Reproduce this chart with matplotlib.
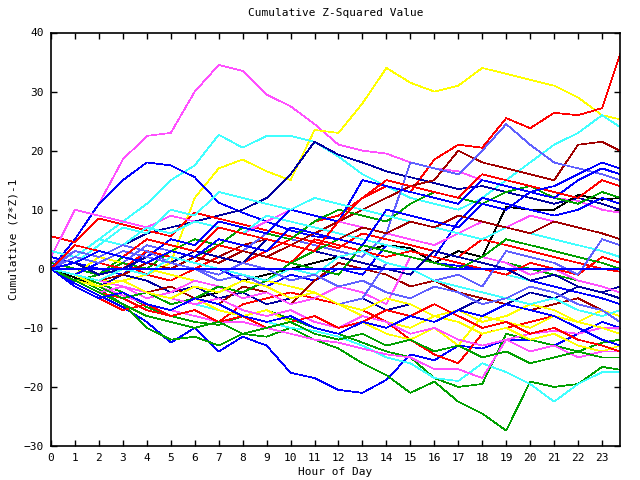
import matplotlib
matplotlib.use("Agg")
import matplotlib.pyplot as plt

# hours sampled (last sample is 23:45)
hours = list(range(24)) + [23.75]

# cumulative (z*z)-1 per series, read roughly at each hour
mag_hi   = [0, 5, 11, 18.5, 22.5, 23, 30, 34.5, 33.5, 29.5, 27.5, 24.5, 21, 20, 19.5, 18, 17, 16.5, 15, 14, 13, 12, 11.5, 10, 9.5]
yel_hi   = [0, -1, -2, -2, -1, 1, 12, 17, 18.5, 16.5, 15, 23.5, 23, 28, 34, 31.5, 30, 31, 34, 33, 32, 31, 29, 26, 25.3]
red_end  = [0, 3, 2, 1, -1, -2, 0, 2, 1, 3, 5, 8, 9, 12, 14, 13, 18.5, 21, 20.5, 25.5, 23.8, 26.4, 26, 27.2, 36.3]
cyan_hi  = [0, 2, 5, 8, 11, 15, 17.5, 22.7, 20.5, 22.5, 22.5, 21.5, 19, 16, 14, 12, 11, 10, 12, 15, 18, 21, 23, 26, 24]
blue_hi  = [0, 5, 11, 15, 18, 17.5, 15.5, 11.2, 9.5, 8, 6.5, 5.5, 5, 4, 3, 2, 1, 0.5, 0, -1, -2, -3, -4, -5, -6]
dblue_hi = [0, -1, 2, 4, 6, 7, 8, 9, 10, 12, 16, 21.5, 19.3, 18, 16.5, 15.5, 14.5, 13.5, 14, 13, 12, 11, 12, 11, 10]
blue_lo  = [0, -2.5, -4.5, -6.5, -9, -12.5, -10, -14, -11.5, -13, -17.6, -18.5, -20.5, -21, -18.8, -14.5, -15.5, -13, -13.5, -12, -12, -13, -11, -9, -10]
green_lo = [0, -1.5, -3.5, -6, -10, -12, -11.5, -13, -11, -11.5, -10, -12, -13.5, -16, -18, -21, -19.1, -22.5, -24.5, -27.4, -19.1, -20, -19.5, -16.6, -17.1]
green_2  = [0, -1, -2.5, -4, -6.5, -8, -9, -9.5, -8, -7, -8.5, -10, -11, -12.5, -14, -15, -18.5, -20, -19.5, -11, -12, -13, -14, -12.5, -12]
cyan_lo  = [0, -1, -2, -3, -4, -5, -6, -7, -8, -9, -10, -10.5, -11.5, -13, -15, -16, -18.5, -19, -16, -17.5, -19.5, -22.5, -19.5, -17.5, -17.5]
mag_lo   = [0, -1.5, -3, -4.5, -6, -7, -8, -9, -9, -10, -11, -12, -12.5, -13.5, -14.5, -15, -17, -17, -18.5, -12, -11, -10.5, -11, -10, -10]
red_lo   = [0, -2, -4, -5, -7, -8, -7, -9, -6, -5, -4, -5, -6, -7, -9, -12, -14.5, -16, -11, -10, -9, -8, -9, -7, -8]
black_1  = [0, -1.5, -3, -2, -4, -3, -5, -4, -2, -1, 0, 1, 2, 3, 4, 3.5, 1, 3, 2, 10.5, 10, 10, 12.5, 11.7, 12]
dred_1   = [0, -1, 1, 0, 2, 1, 3, 2, 4, 5, 4, 6, 8, 10, 12, 14, 15, 20, 18, 17, 16, 15, 21, 21.5, 20]
lblue_1  = [1, 3, 2, 1, 4, 3, 5, 4, 3, 6, 5, 4, 3, 2, 6, 18, 17, 16, 20, 24.5, 21, 18, 17, 16, 15]
m_red1   = [5.5, 4.5, 8.5, 7.5, 6.5, 5.5, 9.5, 8.5, 7.5, 6.5, 5.5, 4.5, 3.5, 6, 5, 4, 3, 2, 5, 4, 3, 2, 1, 0, -0.5]
m_grn1   = [1, 0, -1, 2, 1, 3, 2, 4, 7, 6, 5, 8, 10, 9, 8, 11, 13, 12, 11, 13, 14, 12, 11, 13, 12]
m_blu1   = [2, 1, 0, -1, 3, 2, 1, 0, -2, -3, -1, -2, 0, -1, 4, 3, 2, 8, 12, 11, 10, 9, 10, 12, 11]
m_mag1   = [2, 10, 9, 8, 7, 9, 8, 7, 6, 8, 10, 9, 8, 7, 6, 5, 4, 6, 8, 7, 9, 8, 7, 6, 5]
m_cyn1   = [3, 2, 5, 4, 7, 6, 8, 7, 6, 9, 8, 7, 6, 5, 4, 3, 2, 1, 0, -1, -2, -1, -3, -4, -5]
m_yel1   = [0, -1, 2, 1, 0, -1, -2, -3, -4, -2, -3, -4, -6, -8, -9, -10, -8, -9, -11, -10, -12, -11, -13, -14, -13]
m_dblu1  = [0, -2, -3, -1, -2, -4, -3, -5, -4, -6, -5, -4, -6, -5, -7, -6, -8, -7, -5, -6, -4, -5, -3, -4, -3]
m_red2   = [0, -1, -3, -2, -4, -3, -5, -6, -3, -4, -6, -2, 1, 0, -1, -3, -2, -4, -5, -6, -7, -6, -5, -7, -8]
m_grn2   = [0, -2, -1, 1, 0, 3, 5, 4, 3, 2, 1, 3, 5, 4, 3, 2, 1, 0, 2, 1, 0, -1, -2, -3, -4]
m_blu2   = [0, -1, 1, 3, 2, 5, 4, 8, 7, 6, 10, 9, 8, 15, 14, 13, 12, 11, 15, 14, 13, 12, 15, 17, 16]
m_mag2   = [0, -2, -4, -3, -5, -4, -2, -3, -5, -4, -6, -5, -3, -4, -6, 2, 1, 0, 2, 1, -1, 0, -2, -3, -4]
m_cyn2   = [0, 1, 4, 7, 6, 10, 9, 13, 12, 11, 10, 12, 11, 10, 9, 8, 7, 6, 5, 7, 6, 5, 4, 3, 2]
m_yel2   = [0, -2, -3, -2, -4, -6, -5, -7, -8, -7, -9, -8, -10, -9, -11, -12, -10, -13, -8, -9, -10, -8, -9, -7, -8]
m_red3   = [0, 2, 1, 0, 3, 2, 1, 4, 3, 2, 1, 5, 4, 3, 2, 3, 2, 1, 0, -1, 1, 0, -1, 2, 1]
m_grn3   = [0, -1, -3, -5, -4, -6, -5, -3, -4, -2, 1, 0, -1, 4, 3, 2, 1, 0, 2, 5, 4, 3, 2, 1, 0]
m_blu3   = [0, 3, 2, 4, 3, 1, 0, -2, -1, -3, -5, -4, -6, -5, 1, 0, -2, -1, -3, 3, 2, 1, -1, 5, 4]
m_dred2  = [0, -1, -2, -1, 1, 0, 2, 1, 3, 2, 4, 6, 5, 7, 6, 8, 7, 9, 8, 7, 6, 8, 7, 6, 5]
m_mag3   = [0, -1, -2, -3, -4, -5, -6, -5, -7, -8, -7, -9, -10, -8, -9, -11, -10, -12, -13, -12, -14, -13, -15, -14, -14]
m_yel3   = [0, -1, -3, -2, -4, -5, -3, -4, -2, -3, -5, -4, -6, -7, -5, -6, -8, -7, -9, -8, -6, -7, -9, -10, -11]
m_dblu2  = [0, 1, -1, 0, 2, 1, 3, 2, 1, 5, 4, 3, 2, 1, 0, -1, 3, 2, 1, 0, -2, -1, -3, -4, -5]
m_red4   = [0, -3, -5, -7, -6, -8, -7, -9, -8, -10, -9, -8, -10, -9, -7, -8, -6, -8, -10, -9, -11, -10, -12, -13, -14]
m_grn4   = [0, -2, -4, -6, -8, -9, -10, -9, -11, -10, -9, -11, -12, -11, -13, -12, -14, -13, -15, -14, -16, -15, -14, -15, -15]
m_blu4   = [0, -3, -5, -4, -6, -7, -5, -6, -8, -9, -8, -10, -11, -9, -10, -8, -9, -7, -8, -6, -7, -8, -10, -12, -13]
m_cyn3   = [0, -1, -2, 0, -1, 2, 1, 0, -1, -2, 0, -1, 2, 3, 1, 0, -2, -3, -4, -5, -6, -5, -7, -8, -7]
m_lblu2  = [0, 2, 1, 3, 2, 1, 0, -1, 1, 0, -2, -1, -3, -2, -4, -5, -3, -4, -6, -5, -3, -4, -6, -7, -9]
m_red5   = [0, 4, 3, 2, 5, 4, 3, 7, 6, 5, 4, 3, 8, 12, 15, 14, 13, 12, 16, 15, 14, 13, 12, 15, 14]
m_blu5   = [0, 1, 3, 2, 1, 3, 2, 5, 4, 3, 7, 6, 5, 4, 10, 9, 8, 7, 11, 10, 13, 14, 16, 18, 17]

series = [
    (mag_hi, "#ff50ff"), (yel_hi, "#ffff00"), (red_end, "#ff0000"), (cyan_hi, "#40ffff"),
    (blue_hi, "#0000ff"), (dblue_hi, "#0000a0"), (blue_lo, "#0000ff"), (green_lo, "#00a000"),
    (green_2, "#00a000"), (cyan_lo, "#40ffff"), (mag_lo, "#ff50ff"), (red_lo, "#ff0000"),
    (black_1, "#000000"), (dred_1, "#a00000"), (lblue_1, "#6060ff"),
    (m_red1, "#ff0000"), (m_grn1, "#00a000"), (m_blu1, "#0000ff"), (m_mag1, "#ff50ff"),
    (m_cyn1, "#40ffff"), (m_yel1, "#ffff00"), (m_dblu1, "#0000a0"), (m_red2, "#a00000"),
    (m_grn2, "#00a000"), (m_blu2, "#0000ff"), (m_mag2, "#ff50ff"), (m_cyn2, "#40ffff"),
    (m_yel2, "#ffff00"), (m_red3, "#ff0000"), (m_grn3, "#00a000"), (m_blu3, "#6060ff"),
    (m_dred2, "#a00000"), (m_mag3, "#ff50ff"), (m_yel3, "#ffff00"), (m_dblu2, "#0000a0"),
    (m_red4, "#ff0000"), (m_grn4, "#00a000"), (m_blu4, "#0000ff"), (m_cyn3, "#40ffff"),
    (m_lblu2, "#6060ff"), (m_red5, "#ff0000"), (m_blu5, "#0000ff"),
]

plt.rcParams["font.family"] = ["DejaVu Sans Mono"]
fig = plt.figure(figsize=(6.4, 4.8), dpi=100)
ax = fig.add_axes([51/640, 34/480, 569/640, 413.5/480])

for vals, col in series:
    ax.plot(hours, vals, color=col, lw=0.5, antialiased=False)
ax.axhline(0, color="#0000ff", lw=1.1, antialiased=False)

ax.set_xlim(0, 23.75)
ax.set_ylim(-30, 40)
ax.set_xticks(range(24))
ax.set_yticks(range(-30, 41, 10))
ax.tick_params(direction="in", length=4.5, width=1, top=True, right=True,
               labelsize=8, pad=5)
for s in ax.spines.values():
    s.set_linewidth(1.2)

ax.set_title("Cumulative Z-Squared Value", fontsize=8, pad=12)
ax.set_xlabel("Hour of Day", fontsize=8, labelpad=3)
ax.set_ylabel("Cumulative (Z*Z)-1", fontsize=8, labelpad=4)

fig.savefig("out.png", dpi=100)
